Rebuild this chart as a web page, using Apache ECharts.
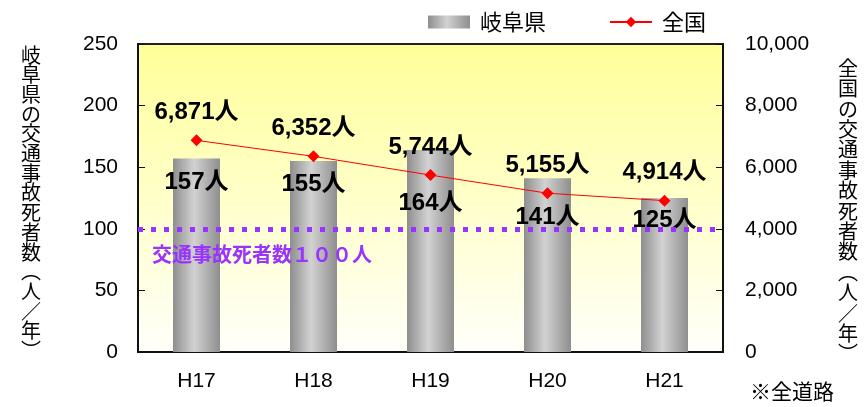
<!DOCTYPE html>
<html><head><meta charset="utf-8">
<script src="https://cdn.jsdelivr.net/npm/echarts@6/dist/echarts.min.js"></script>
<style>html,body{margin:0;padding:0;background:#fff}#c{width:868px;height:407px}</style>
</head><body><div id="c"></div>
<script>
const categories = ['H17','H18','H19','H20','H21'];
const gifuValues = [157, 155, 164, 141, 125];
const nationalValues = [6871, 6352, 5744, 5155, 4914];
const leftTicks = {min: 0, max: 250, interval: 50};
const rightTicks = {min: 0, max: 10000, interval: 2000};
const targetValue = 100;
const targetLabel = '交通事故死者数１００人';
const leftName = '岐阜県の交通事故死者数︵人／年︶';
const rightName = '全国の交通事故死者数︵人／年︶';
const seriesNames = ['岐阜県', '全国'];
const noteText = '※全道路';
// label gaps below the bar tops, chosen to avoid the line (style only)
const barLabelGap = [12, 11, 41, 27, 10];

const FONT = '"Liberation Sans", "Noto Sans CJK JP", sans-serif';
const CJK = '"Noto Sans CJK JP", sans-serif';
const fmt = v => v.toLocaleString('en-US');
const vert = s => s.split('').join('\n');

const barData = gifuValues.map((v, i) => ({value: v, label: {distance: barLabelGap[i]}}));

const chart = echarts.init(document.getElementById('c'));
chart.setOption({
  animation: false,
  textStyle: {fontFamily: FONT, color: '#000'},
  grid: {
    left: 138, right: 145, top: 44, bottom: 55, show: true,
    borderColor: '#222', borderWidth: 2,
    backgroundColor: {type: 'linear', x: 0, y: 0, x2: 0, y2: 1,
      colorStops: [{offset: 0, color: '#FFFF99'}, {offset: 1, color: '#FFFFFA'}]}
  },
  legend: {
    left: 423, top: 6, itemWidth: 42, itemHeight: 13, itemGap: 63,
    textStyle: {fontFamily: CJK, fontSize: 22, color: '#000', padding: [0, 0, 0, 5]},
    data: [{name: seriesNames[0], icon: 'rect'}, {name: seriesNames[1]}]
  },
  xAxis: {
    type: 'category', data: categories,
    axisLine: {lineStyle: {color: '#111', width: 2}},
    axisTick: {inside: true, length: 7, lineStyle: {color: '#111'}},
    axisLabel: {fontSize: 21, color: '#000', margin: 19}
  },
  yAxis: [{
    type: 'value', min: leftTicks.min, max: leftTicks.max, interval: leftTicks.interval,
    axisLine: {show: true, lineStyle: {color: '#111', width: 2}},
    axisTick: {show: true, inside: true, length: 7, lineStyle: {color: '#111'}},
    splitLine: {show: false},
    axisLabel: {fontSize: 21, color: '#000', margin: 20}
  }, {
    type: 'value', min: rightTicks.min, max: rightTicks.max, interval: rightTicks.interval,
    axisLine: {show: true, lineStyle: {color: '#111', width: 2}},
    axisTick: {show: true, inside: true, length: 7, lineStyle: {color: '#111'}},
    splitLine: {show: false},
    axisLabel: {fontSize: 21, color: '#000', margin: 22, formatter: v => fmt(v)}
  }],
  series: [{
    name: seriesNames[0], type: 'bar', data: barData, barWidth: 47, yAxisIndex: 0,
    itemStyle: {color: {type: 'linear', x: 0, y: 0, x2: 1, y2: 0,
      colorStops: [{offset: 0, color: '#8e8e8e'}, {offset: 0.45, color: '#d2d2d2'}, {offset: 1, color: '#8e8e8e'}]}},
    label: {show: true, position: 'insideTop', distance: 12, fontSize: 24, fontWeight: 'bold',
      color: '#000', fontFamily: FONT, formatter: p => p.value + '人'},
    markLine: {
      silent: true, symbol: 'none',
      lineStyle: {color: '#9933FF', width: 5, type: [5, 8]},
      label: {show: true, position: 'insideStartBottom', formatter: targetLabel, distance: [14, 16],
        color: '#9933FF', fontSize: 20, fontWeight: 'bold', fontFamily: CJK},
      data: [{yAxis: targetValue}]
    },
    z: 2
  }, {
    name: seriesNames[1], type: 'line', data: nationalValues, yAxisIndex: 1,
    color: '#FF0000', lineStyle: {color: '#FF0000', width: 1},
    symbol: 'diamond', symbolSize: 12, itemStyle: {color: '#FF0000'},
    label: {show: true, position: 'top', distance: 10, fontSize: 24, fontWeight: 'bold',
      color: '#000', fontFamily: FONT, formatter: p => fmt(p.value) + '人'},
    z: 5
  }],
  graphic: [{
    type: 'text', left: 21, top: 45,
    style: {text: vert(leftName), fontFamily: CJK, fontSize: 20, lineHeight: 19.7, fill: '#000', align: 'center'}
  }, {
    type: 'text', left: 838, top: 58,
    style: {text: vert(rightName), fontFamily: CJK, fontSize: 20, lineHeight: 20.4, fill: '#000', align: 'center'}
  }, {
    type: 'text', left: 750, top: 381,
    style: {text: noteText, fontFamily: CJK, fontSize: 21, fill: '#000'}
  }]
});
</script></body></html>
